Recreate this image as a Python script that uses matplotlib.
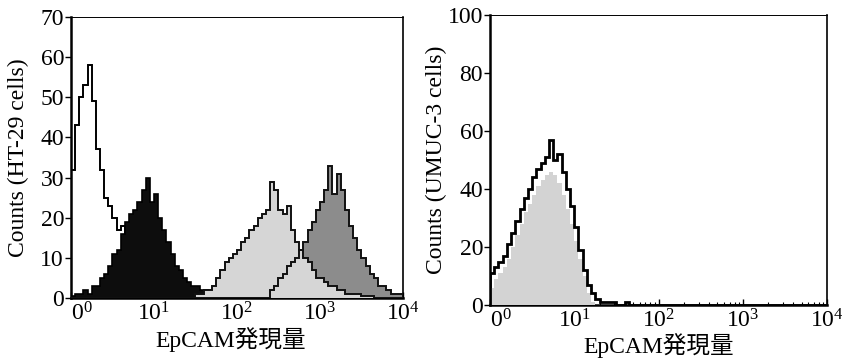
import numpy as np
import matplotlib
matplotlib.use("Agg")
import matplotlib.pyplot as plt
from matplotlib.ticker import LogLocator, NullFormatter

plt.rcParams['font.family'] = ['Liberation Serif', 'Noto Sans CJK JP']
plt.rcParams['mathtext.fontset'] = 'custom'
plt.rcParams['mathtext.rm'] = 'Liberation Serif'
plt.rcParams['mathtext.it'] = 'Liberation Serif:italic'

# ---- data: histogram counts per bin, bins of 0.05 decade from 10^0 to 10^4 ----
bin_width_decades = 0.05
n_bins = 80

ht29_control = [32, 43, 50, 53, 58, 49, 37, 32, 25, 23, 20, 17, 18, 14, 12, 10, 8, 7, 6, 5,
                5, 4, 4, 3, 3, 3, 2, 2, 2, 2, 2, 1, 2, 1, 1, 1, 1, 1, 1, 0,
                0, 0, 0, 0, 0, 0, 0, 0, 0, 0, 0, 0, 0, 0, 0, 0, 0, 0, 0, 0,
                0, 0, 0, 0, 0, 0, 0, 0, 0, 0, 0, 0, 0, 0, 0, 0, 0, 0, 0, 0]
ht29_black = [0.5, 1, 1, 2, 1, 3, 3, 5, 6, 8, 11, 12, 16, 19, 21, 22, 24, 27, 30, 24,
              26, 20, 17, 14, 11, 8, 7, 5, 4, 3, 3, 2, 1, 1, 1, 0.5, 0, 0, 0, 0,
              0, 0, 0, 0, 0, 0, 0, 0, 0, 0, 0, 0, 0, 0, 0, 0, 0, 0, 0, 0,
              0, 0, 0, 0, 0, 0, 0, 0, 0, 0, 0, 0, 0, 0, 0, 0, 0, 0, 0, 0]
ht29_light = [0, 0, 0, 0, 0, 0, 0, 0, 0, 0, 0, 0, 0, 0, 0, 0, 0, 0, 0, 0,
              0, 0, 0, 0, 0, 0, 0, 0, 0, 0, 1, 1, 2, 2, 3, 5, 7, 9, 10, 11,
              12, 14, 15, 17, 18, 20, 21, 22, 29, 27, 22, 21, 23, 17, 14, 12, 10, 9, 7, 5,
              5, 4, 3, 3, 2, 2, 1, 1, 1, 1, 0.5, 0.5, 0.5, 0, 0, 0, 0, 0, 0, 0]
ht29_dark = [0, 0, 0, 0, 0, 0, 0, 0, 0, 0, 0, 0, 0, 0, 0, 0, 0, 0, 0, 0,
             0, 0, 0, 0, 0, 0, 0, 0, 0, 0, 0, 0, 0, 0, 0, 0, 0, 0, 0, 0,
             0, 0, 0, 0, 0, 0, 0, 0, 2, 3, 5, 6, 8, 9, 10, 12, 14, 17, 19, 22,
             24, 27, 33, 26, 31, 27, 22, 18, 15, 12, 10, 8, 6, 5, 3, 3, 2, 1, 1, 1]

umuc_line = [11, 13, 15, 17, 21, 25, 29, 33, 37, 40, 44, 47, 49, 51, 57, 50, 52, 46, 40, 34,
             27, 19, 12, 7, 4, 2, 1, 1, 1, 1, 0, 0, 1, 0, 0, 0, 0, 0, 0, 0,
             0, 0, 0, 0, 0, 0, 0, 0, 0, 0, 0, 0, 0, 0, 0, 0, 0, 0, 0, 0,
             0, 0, 0, 0, 0, 0, 0, 0, 0, 0, 0, 0, 0, 0, 0, 0, 0, 0, 0, 0]
umuc_fill = [6, 9, 11, 13, 16, 20, 24, 28, 32, 35, 38, 41, 43, 45, 46, 45, 42, 38, 33, 28,
             22, 16, 10, 4, 1, 0, 0, 0, 0, 0, 0, 0, 0, 0, 0, 0, 0, 0, 0, 0,
             0, 0, 0, 0, 0, 0, 0, 0, 0, 0, 0, 0, 0, 0, 0, 0, 0, 0, 0, 0,
             0, 0, 0, 0, 0, 0, 0, 0, 0, 0, 0, 0, 0, 0, 0, 0, 0, 0, 0, 0]

x_tick_values = [1, 10, 100, 1000, 10000]
x_tick_labels = [r'$\mathrm{0^{0}}$', r'$\mathrm{10^{1}}$', r'$\mathrm{10^{2}}$',
                 r'$\mathrm{10^{3}}$', r'$\mathrm{10^{4}}$']
left_yticks = [0, 10, 20, 30, 40, 50, 60, 70]
right_yticks = [0, 20, 40, 60, 80, 100]
xlabel = 'EpCAM発現量'
left_ylabel = 'Counts (HT-29 cells)'
right_ylabel = 'Counts (UMUC-3 cells)'

edges = 10 ** (np.arange(n_bins + 1) * bin_width_decades)

fig = plt.figure(figsize=(8.43, 3.58), dpi=100)
axL = fig.add_axes([0.0842, 0.1676, 0.3938, 0.785])
axR = fig.add_axes([0.5813, 0.148, 0.3997, 0.81])

FS = 17

def style(ax, yticks, ymax):
    ax.set_xscale('log')
    ax.set_xlim(1, 10000)
    ax.set_ylim(0, ymax)
    ax.set_xticks(x_tick_values)
    labels = ax.set_xticklabels(x_tick_labels, fontsize=FS)
    labels[0].set_ha('left')
    ax.xaxis.set_minor_locator(LogLocator(base=10, subs=np.arange(2, 10)))
    ax.xaxis.set_minor_formatter(NullFormatter())
    ax.set_yticks(yticks)
    ax.set_yticklabels([str(v) for v in yticks], fontsize=FS)
    ax.tick_params(axis='y', which='major', direction='out', length=4, width=1, pad=1)
    ax.tick_params(axis='x', which='major', direction='in', length=4, width=1, pad=3)
    ax.tick_params(axis='x', which='minor', direction='in', length=2.5, width=0.8)
    ax.spines['top'].set_linewidth(0.7)
    ax.spines['right'].set_linewidth(1.2)
    ax.spines['left'].set_linewidth(1.8)
    ax.spines['bottom'].set_linewidth(1.8)
    ax.set_xlabel(xlabel, fontsize=FS)

# Left panel
axL.stairs(ht29_control, edges, fill=False, color='black', lw=1.4, zorder=2)
axL.stairs(ht29_black, edges, fill=True, color='#0d0d0d', zorder=3)
axL.stairs(ht29_black, edges, fill=False, color='black', lw=1.2, zorder=3)
axL.stairs(ht29_dark, edges, fill=True, color='#8c8c8c', zorder=4)
axL.stairs(ht29_light, edges, fill=True, color='#d6d6d6', zorder=5)
axL.stairs(ht29_dark, edges, fill=False, color='#111111', lw=1.4, zorder=6)
axL.stairs(ht29_light, edges, fill=False, color='#111111', lw=1.4, zorder=6)
style(axL, left_yticks, 70)
axL.set_ylabel(left_ylabel, fontsize=FS)
axL.yaxis.set_label_coords(-0.125, 0.5)
axL.xaxis.set_label_coords(0.48, -0.105)

# Right panel
axR.stairs(umuc_fill, edges, fill=True, color='#d3d3d3', zorder=3)
axR.stairs(umuc_line, edges, fill=False, color='black', lw=2.0, zorder=4)
style(axR, right_yticks, 100)
axR.set_ylabel(right_ylabel, fontsize=FS)
axR.yaxis.set_label_coords(-0.128, 0.5)
axR.xaxis.set_label_coords(0.5, -0.095)

fig.savefig('out.png', dpi=100)
